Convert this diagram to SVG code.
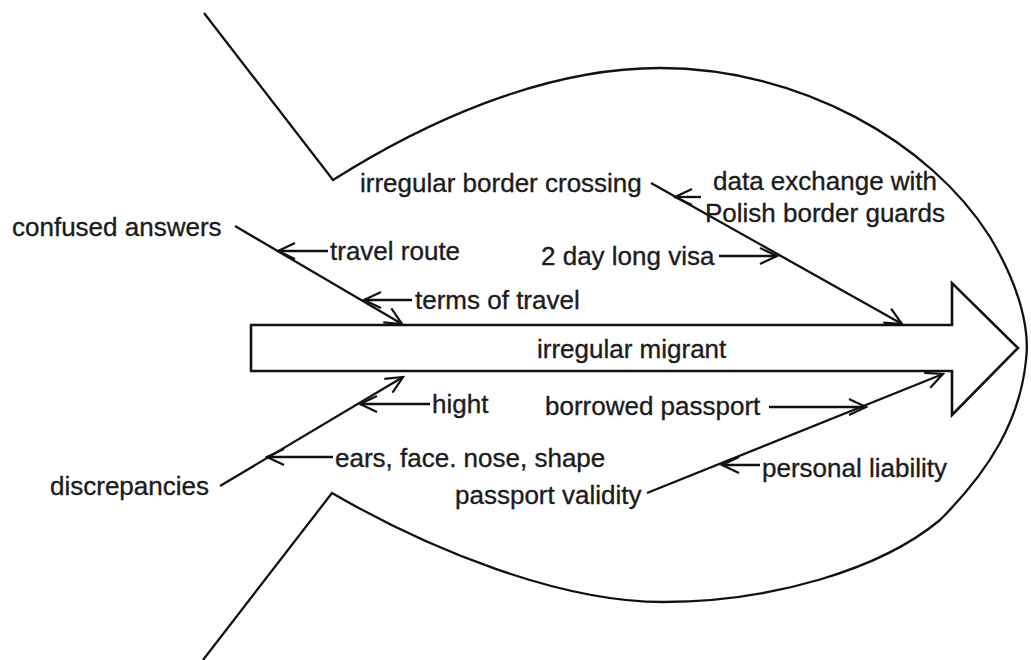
<svg xmlns="http://www.w3.org/2000/svg" width="1031" height="660" viewBox="0 0 1031 660">
<style>
.ln{fill:none;stroke:#111;stroke-width:2.3}
.bd{fill:#fff;stroke:#111;stroke-width:2.6}
.t{font-family:"Liberation Sans",Arial,sans-serif;font-size:26px;fill:#1c1c1c;stroke:#1c1c1c;stroke-width:0.35}
</style>
<defs>
<marker id="ah" markerUnits="userSpaceOnUse" markerWidth="40" markerHeight="40" viewBox="-20 -20 40 40" refX="0" refY="0" orient="auto">
<path d="M-17,-8 L0,0 L-17,8" fill="none" stroke="#111" stroke-width="2.2"/>
</marker>
</defs>
<rect width="1031" height="660" fill="#fff"/>
<g id="fish-outline">
<path class="ln" d="M204,13 L333,180 C420,125 540,68 660,68 C800,68 930,142 990,237 C1020,287 1030,330 1026,360 C1020,420 990,470 940,520 C880,570 770,602 663,602 C560,602 430,550 332,493 L203,660"/>
</g>
<g id="spine">
<polygon class="bd" points="251,325 952,325 952,283 1018,348 952,415 952,371 251,371"/>
<text class="t" x="537" y="358">irregular migrant</text>
</g>
<g id="connectors">
<line class="ln" x1="235" y1="226" x2="402" y2="324" marker-end="url(#ah)"/>
<line class="ln" x1="328" y1="251" x2="278" y2="251" marker-end="url(#ah)"/>
<line class="ln" x1="412" y1="300" x2="364" y2="300" marker-end="url(#ah)"/>
<line class="ln" x1="651" y1="183" x2="902" y2="324" marker-end="url(#ah)"/>
<line class="ln" x1="701" y1="197" x2="675" y2="197" marker-end="url(#ah)"/>
<line class="ln" x1="719" y1="256" x2="777" y2="256" marker-end="url(#ah)"/>
<line class="ln" x1="220" y1="486" x2="403" y2="377" marker-end="url(#ah)"/>
<line class="ln" x1="430" y1="404" x2="360" y2="404" marker-end="url(#ah)"/>
<line class="ln" x1="333" y1="457" x2="267" y2="457" marker-end="url(#ah)"/>
<line class="ln" x1="647" y1="493" x2="943" y2="374" marker-end="url(#ah)"/>
<line class="ln" x1="769" y1="407" x2="866" y2="407" marker-end="url(#ah)"/>
<line class="ln" x1="760" y1="465" x2="722" y2="465" marker-end="url(#ah)"/>
</g>
<g id="confused-answers"><text class="t" x="12" y="236">confused answers</text></g>
<g id="travel-route"><text class="t" x="330" y="260">travel route</text></g>
<g id="terms-of-travel"><text class="t" x="415" y="309">terms of travel</text></g>
<g id="irregular-border-crossing"><text class="t" x="360" y="192">irregular border crossing</text></g>
<g id="data-exchange"><text class="t" x="713" y="190">data exchange with</text><text class="t" x="705" y="222">Polish border guards</text></g>
<g id="two-day-visa"><text class="t" x="541" y="265">2 day long visa</text></g>
<g id="discrepancies"><text class="t" x="50" y="495">discrepancies</text></g>
<g id="hight"><text class="t" x="432" y="413">hight</text></g>
<g id="ears-face"><text class="t" x="335" y="467">ears, face. nose, shape</text></g>
<g id="borrowed-passport"><text class="t" x="545" y="415">borrowed passport</text></g>
<g id="personal-liability"><text class="t" x="762" y="477">personal liability</text></g>
<g id="passport-validity"><text class="t" x="455" y="504">passport validity</text></g>
</svg>
